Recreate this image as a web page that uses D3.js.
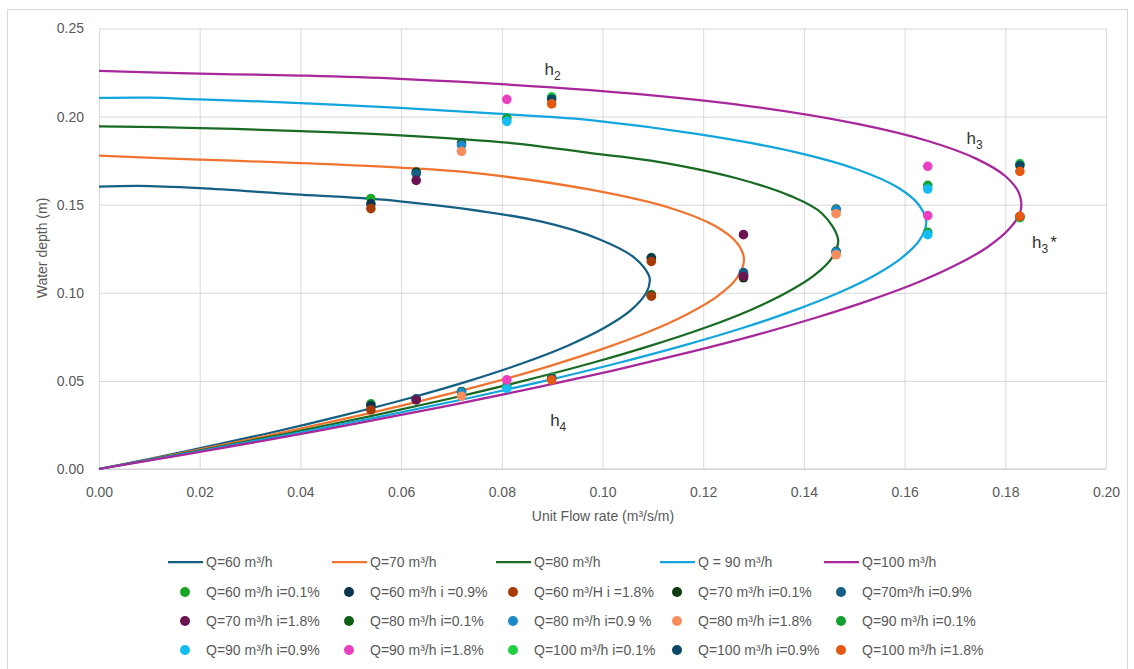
<!DOCTYPE html>
<html><head><meta charset="utf-8">
<script src="https://cdn.jsdelivr.net/npm/d3@7"></script>
<style>
body{margin:0;background:#fff}
text{font-family:"Liberation Sans",Arial,sans-serif}
</style>
</head><body>
<svg id="c" width="1134" height="669"></svg>
<script>
// ---------- data ----------
const xTickValues = [0, 0.02, 0.04, 0.06, 0.08, 0.10, 0.12, 0.14, 0.16, 0.18, 0.20];
const yTickValues = [0, 0.05, 0.10, 0.15, 0.20, 0.25];

const lineNames = ["Q=60 m³/h", "Q=70 m³/h", "Q=80 m³/h", "Q = 90 m³/h", "Q=100 m³/h"];

// [unit flow rate q, water depth h]
const lineQ60 = [[0,0.1602],[0.008,0.1607],[0.02,0.1594],[0.04,0.1557],[0.0598,0.1519],[0.0877,0.1405],[0.0997,0.1300],[0.1063,0.1200],[0.1092,0.1100],[0.1094,0.1067],[0.1087,0.1000],[0.1056,0.0900],[0.1003,0.0800],[0.0931,0.0700],[0.0841,0.0600],[0.0735,0.0500],[0.0614,0.0400],[0.0479,0.0300],[0.0332,0.0200],[0.0172,0.0100],[0,0]];
const lineQ70 = [[0,0.1778],[0.02,0.1756],[0.04,0.1736],[0.0598,0.1710],[0.0744,0.1680],[0.0976,0.1585],[0.1136,0.1480],[0.1223,0.1380],[0.1268,0.1280],[0.1281,0.1187],[0.1266,0.1080],[0.1228,0.0980],[0.1169,0.0880],[0.1093,0.0780],[0.0999,0.0680],[0.0890,0.0580],[0.0767,0.0480],[0.0630,0.0380],[0.0480,0.0280],[0.0319,0.0180],[0.0164,0.0090],[0,0]];
const lineQ80 = [[0,0.1945],[0.02,0.1935],[0.04,0.1918],[0.0598,0.1894],[0.0819,0.1850],[0.0976,0.1793],[0.1096,0.1750],[0.1266,0.1650],[0.1373,0.1550],[0.1436,0.1450],[0.1468,0.1300],[0.1456,0.1200],[0.1421,0.1100],[0.1365,0.1000],[0.1292,0.0900],[0.1202,0.0800],[0.1096,0.0700],[0.0977,0.0600],[0.0843,0.0500],[0.0698,0.0400],[0.0540,0.0300],[0.0371,0.0200],[0.0191,0.0100],[0,0]];
const lineQ90 = [[0,0.2106],[0.010,0.2107],[0.02,0.2098],[0.04,0.2077],[0.0598,0.2049],[0.0886,0.2000],[0.0976,0.1980],[0.1190,0.1900],[0.1381,0.1800],[0.1506,0.1700],[0.1585,0.1600],[0.1628,0.1500],[0.1643,0.1400],[0.1630,0.1300],[0.1595,0.1200],[0.1541,0.1100],[0.1469,0.1000],[0.1381,0.0900],[0.1278,0.0800],[0.1160,0.0700],[0.1029,0.0600],[0.0886,0.0500],[0.0731,0.0400],[0.0564,0.0300],[0.0386,0.0200],[0.0198,0.0100],[0,0]];
const lineQ100 = [[0,0.2259],[0.02,0.2244],[0.04,0.2233],[0.0598,0.2214],[0.0976,0.2150],[0.1290,0.2060],[0.1504,0.1960],[0.1648,0.1860],[0.1743,0.1760],[0.1801,0.1660],[0.1828,0.1560],[0.1830,0.1460],[0.1807,0.1360],[0.1765,0.1260],[0.1704,0.1160],[0.1627,0.1060],[0.1533,0.0960],[0.1425,0.0860],[0.1304,0.0760],[0.1169,0.0660],[0.1023,0.0560],[0.0865,0.0460],[0.0695,0.0360],[0.0515,0.0260],[0.0325,0.0160],[0.0166,0.0080],[0,0]];

const pointNames = [
  "Q=60 m³/h i=0.1%", "Q=60 m³/h i =0.9%", "Q=60 m³/H i =1.8%", "Q=70 m³/h i=0.1%", "Q=70m³/h i=0.9%",
  "Q=70 m³/h i=1.8%", "Q=80 m³/h i=0.1%", "Q=80 m³/h i=0.9 %", "Q=80 m³/h i=1.8%", "Q=90 m³/h i=0.1%",
  "Q=90 m³/h i=0.9%", "Q=90 m³/h i=1.8%", "Q=100 m³/h i=0.1%", "Q=100 m³/h i=0.9%", "Q=100 m³/h i=1.8%"
];
const ptsQ60i01 = [[0.054,0.1535],[0.054,0.0370],[0.1097,0.1200],[0.1097,0.0990]];
const ptsQ60i09 = [[0.054,0.1505],[0.054,0.0360],[0.1097,0.1197],[0.1097,0.0985]];
const ptsQ60i18 = [[0.054,0.1478],[0.054,0.0335],[0.1097,0.1178],[0.1097,0.0981]];
const ptsQ70i01 = [[0.063,0.1685],[0.063,0.0395],[0.128,0.1100],[0.128,0.1085]];
const ptsQ70i09 = [[0.063,0.1675],[0.063,0.0398],[0.128,0.1115],[0.128,0.1105]];
const ptsQ70i18 = [[0.063,0.1638],[0.063,0.0392],[0.128,0.1330],[0.128,0.1093]];
const ptsQ80i01 = [[0.072,0.1850],[0.072,0.0440],[0.1464,0.1475],[0.1464,0.1235]];
const ptsQ80i09 = [[0.072,0.1837],[0.072,0.0435],[0.1464,0.1471],[0.1464,0.1231]];
const ptsQ80i18 = [[0.072,0.1803],[0.072,0.0413],[0.1464,0.1449],[0.1464,0.1216]];
const ptsQ90i01 = [[0.081,0.1990],[0.081,0.0470],[0.1646,0.1610],[0.1646,0.1343]];
const ptsQ90i09 = [[0.081,0.1973],[0.081,0.0458],[0.1646,0.1589],[0.1646,0.1330]];
const ptsQ90i18 = [[0.081,0.2098],[0.081,0.0506],[0.1646,0.1718],[0.1646,0.1438]];
const ptsQ100i01 = [[0.0899,0.2112],[0.0899,0.0520],[0.1829,0.1733],[0.1829,0.1426]];
const ptsQ100i09 = [[0.0899,0.2100],[0.0899,0.0515],[0.1829,0.1723],[0.1829,0.1432]];
const ptsQ100i18 = [[0.0899,0.2072],[0.0899,0.0506],[0.1829,0.1689],[0.1829,0.1434]];

const annotations = [
  {q:0.0885, h:0.2235, base:"h", sub:"2", sup:""},
  {q:0.1723, h:0.1845, base:"h", sub:"3", sup:""},
  {q:0.1853, h:0.1255, base:"h", sub:"3", sup:"*"},
  {q:0.0896, h:0.0245, base:"h", sub:"4", sup:""}
];

// ---------- styles ----------
const lineColors = ["#156082", "#F0742F", "#196B24", "#12A6DD", "#A8279A"];
const pointColors = ["#1aa524","#0c3650","#a83a08","#0b3d10","#135f86",
                     "#6a1552","#11601a","#1a8ac8","#f78c5c","#12a232",
                     "#15bcf0","#ea3fc0","#22cf42","#0d4766","#e65910"];

const lineSeries = [lineQ60, lineQ70, lineQ80, lineQ90, lineQ100];
const pointSeries = [ptsQ60i01, ptsQ60i09, ptsQ60i18, ptsQ70i01, ptsQ70i09,
                     ptsQ70i18, ptsQ80i01, ptsQ80i09, ptsQ80i18, ptsQ90i01,
                     ptsQ90i09, ptsQ90i18, ptsQ100i01, ptsQ100i09, ptsQ100i18];

// ---------- chart ----------
const svg = d3.select("#c");
const L = 99, R = 1106, T = 28.5, B = 469;
const x = d3.scaleLinear().domain([0, 0.2]).range([L, R]);
const y = d3.scaleLinear().domain([0, 0.25]).range([B, T]);

svg.append("rect").attr("x",7.5).attr("y",9.5).attr("width",1120).attr("height",680)
  .attr("fill","#fff").attr("stroke","#d9d9d9");

const gx = svg.append("g").attr("transform", `translate(0,${B})`)
  .call(d3.axisBottom(x).tickValues(xTickValues).tickFormat(d3.format(".2f"))
        .tickSize(-(B - T)).tickPadding(18));
gx.select(".domain").remove();
gx.selectAll(".tick line").attr("stroke", "#d9d9d9");
gx.selectAll(".tick text").attr("fill", "#595959").style("font-size", "14px")
  .style("font-family", '"Liberation Sans",Arial,sans-serif');

const gy = svg.append("g").attr("transform", `translate(${L},0)`)
  .call(d3.axisLeft(y).tickValues(yTickValues).tickFormat(d3.format(".2f"))
        .tickSize(-(R - L)).tickPadding(15));
gy.select(".domain").remove();
gy.selectAll(".tick line").attr("stroke", "#d9d9d9");
gy.selectAll(".tick text").attr("fill", "#595959").style("font-size", "14px")
  .style("font-family", '"Liberation Sans",Arial,sans-serif');

// bottom axis line
svg.append("line").attr("x1", L).attr("x2", R).attr("y1", y(0)).attr("y2", y(0))
  .attr("stroke", "#cfcfcf").attr("stroke-width", 1.2);

svg.append("text").attr("transform", "translate(47,248) rotate(-90)")
  .attr("text-anchor", "middle").attr("fill", "#595959").style("font-size", "14px")
  .text("Water depth (m)");
svg.append("text").attr("x", 603).attr("y", 521)
  .attr("text-anchor", "middle").attr("fill", "#595959").style("font-size", "14px")
  .text("Unit Flow rate (m³/s/m)");

// curves
const lineGen = d3.line().x(d => x(d[0])).y(d => y(d[1])).curve(d3.curveCatmullRom.alpha(0.5));
svg.append("g").selectAll("path").data(lineSeries).join("path")
  .attr("d", lineGen).attr("fill", "none")
  .attr("stroke", (d, i) => lineColors[i]).attr("stroke-width", 2.25);

// points
pointSeries.forEach((s, i) => {
  svg.append("g").selectAll("circle").data(s).join("circle")
    .attr("cx", d => x(d[0])).attr("cy", d => y(d[1])).attr("r", 4.8)
    .attr("fill", pointColors[i]);
});

// annotations
annotations.forEach(a => {
  const t = svg.append("text").attr("x", x(a.q)).attr("y", y(a.h))
    .attr("fill", "#333").style("font-size", "17px");
  t.append("tspan").text(a.base);
  t.append("tspan").attr("dy", 5).style("font-size", "12px").text(a.sub);
  if (a.sup) t.append("tspan").attr("dy", -5).attr("dx", 2).style("font-size", "17px").text(a.sup);
});

// legend
const colX = [206, 370, 534, 698, 862];
const rowY = [562, 592, 621, 650];
const lg = svg.append("g");
lineNames.forEach((n, i) => {
  lg.append("line").attr("x1", colX[i] - 38).attr("x2", colX[i] - 3)
    .attr("y1", rowY[0]).attr("y2", rowY[0]).attr("stroke", lineColors[i]).attr("stroke-width", 2.25);
  lg.append("text").attr("x", colX[i]).attr("y", rowY[0]).attr("dy", "0.35em")
    .attr("fill", "#595959").style("font-size", "14px").text(n);
});
pointNames.forEach((n, i) => {
  const c = i % 5, r = 1 + Math.floor(i / 5);
  lg.append("circle").attr("cx", colX[c] - 21).attr("cy", rowY[r]).attr("r", 5)
    .attr("fill", pointColors[i]);
  lg.append("text").attr("x", colX[c]).attr("y", rowY[r]).attr("dy", "0.35em")
    .attr("fill", "#595959").style("font-size", "14px").text(n);
});
</script>
</body></html>
